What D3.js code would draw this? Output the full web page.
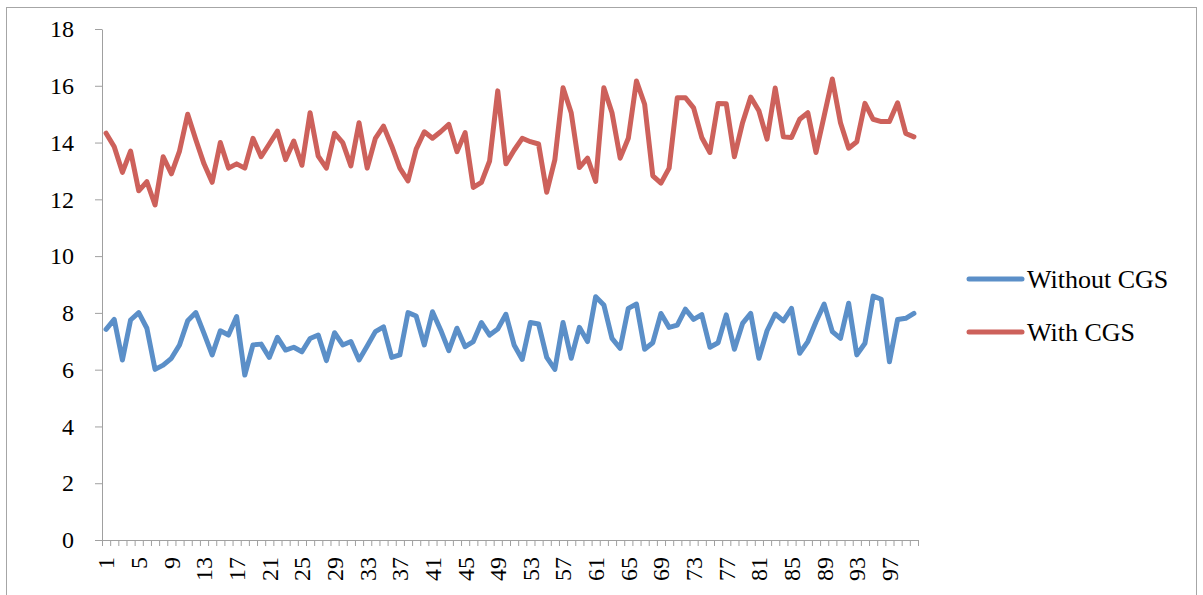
<!DOCTYPE html>
<html>
<head>
<meta charset="utf-8">
<script src="https://cdn.jsdelivr.net/npm/d3@7"></script>
<style>
  html, body { margin: 0; padding: 0; background: #fff; }
  svg { display: block; }
  text { font-family: "Liberation Serif", "Times New Roman", serif; fill: #000; }
</style>
</head>
<body>
<svg id="chart" width="1203" height="595"></svg>
<script>
const categories = d3.range(1, 101);
const seriesNames = ["Without CGS", "With CGS"];
const withoutCGS = [7.42,7.77,6.34,7.75,8.01,7.46,6.01,6.16,6.40,6.87,
  7.72,8.01,7.28,6.52,7.37,7.22,7.87,5.81,6.87,6.90,
  6.43,7.14,6.69,6.79,6.63,7.10,7.22,6.32,7.30,6.87,
  6.99,6.34,6.83,7.34,7.51,6.43,6.52,8.01,7.89,6.87,
  8.04,7.40,6.67,7.46,6.81,6.99,7.66,7.22,7.43,7.95,
  6.87,6.36,7.66,7.61,6.43,6.01,7.66,6.40,7.49,6.99,
  8.57,8.28,7.10,6.75,8.16,8.31,6.72,6.95,7.98,7.49,
  7.57,8.13,7.77,7.94,6.79,6.95,7.93,6.72,7.63,7.98,
  6.40,7.37,7.96,7.72,8.16,6.58,6.99,7.69,8.31,7.34,
  7.10,8.34,6.52,6.93,8.59,8.48,6.28,7.77,7.81,7.98];
const withCGS = [14.33,13.85,12.95,13.7,12.3,12.62,11.8,13.5,12.9,13.7,
  15.0,14.1,13.25,12.6,14.0,13.1,13.25,13.1,14.15,13.5,
  13.95,14.4,13.4,14.05,13.2,15.05,13.52,13.1,14.33,14.0,
  13.18,14.7,13.1,14.15,14.58,13.88,13.1,12.65,13.77,14.38,
  14.15,14.38,14.64,13.68,14.35,12.42,12.6,13.35,15.82,13.25,
  13.73,14.15,14.03,13.95,12.25,13.4,15.93,15.05,13.12,13.45,
  12.63,15.93,15.05,13.45,14.15,16.17,15.35,12.83,12.57,13.1,
  15.58,15.58,15.22,14.18,13.65,15.38,15.37,13.5,14.7,15.6,
  15.12,14.12,15.92,14.2,14.18,14.82,15.05,13.65,14.94,16.24,
  14.7,13.8,14.03,15.38,14.82,14.74,14.74,15.4,14.32,14.2];
const yTicks = [0,2,4,6,8,10,12,14,16,18];
const xLabelTicks = categories.filter((d, i) => i % 4 === 0);

const colors = ["#5B8FC8", "#CD615B"];
const series = [withoutCGS, withCGS];

const svg = d3.select("#chart");

// frame
svg.append("rect")
  .attr("x", 6.5).attr("y", 7.5)
  .attr("width", 1190).attr("height", 600)
  .attr("fill", "none").attr("stroke", "#a6a6a6").attr("stroke-width", 1);

const plotLeft = 102, plotRight = 918, plotTop = 29, plotBottom = 540;

const x = d3.scaleBand().domain(categories).range([plotLeft, plotRight]).padding(0);
const xEdge = d3.scaleLinear().domain([0, categories.length]).range([plotLeft, plotRight]);
const y = d3.scaleLinear().domain([0, 18]).range([plotBottom, plotTop]);

// y axis
const yAxis = svg.append("g")
  .attr("transform", `translate(${plotLeft},0)`)
  .call(d3.axisLeft(y).tickValues(yTicks).tickSize(7).tickPadding(21).tickSizeOuter(0));
yAxis.select(".domain").attr("stroke", "#a0a0a0");
yAxis.selectAll(".tick line").attr("stroke", "#a0a0a0");
yAxis.selectAll(".tick text").style("font-size", "24px").attr("font-family", "Liberation Serif");

// x axis ticks (between categories)
const xTickAxis = svg.append("g")
  .attr("transform", `translate(0,${plotBottom})`)
  .call(d3.axisBottom(xEdge).tickValues(d3.range(0, categories.length + 1)).tickSize(6).tickFormat("").tickSizeOuter(0));
xTickAxis.select(".domain").attr("stroke", "#a0a0a0");
xTickAxis.selectAll(".tick line").attr("stroke", "#a0a0a0");

// x labels
const xAxis = svg.append("g")
  .attr("transform", `translate(0,${plotBottom})`)
  .call(d3.axisBottom(x).tickValues(xLabelTicks).tickSize(0).tickPadding(0));
xAxis.select(".domain").remove();
xAxis.selectAll(".tick text")
  .style("font-size", "24px")
  .attr("font-family", "Liberation Serif")
  .attr("text-anchor", "end")
  .attr("dy", "0.35em")
  .attr("transform", "translate(0,17) rotate(-90)")
  .attr("x", 0).attr("y", 0);

// lines
const line = d3.line()
  .x((d, i) => x(categories[i]) + x.bandwidth() / 2)
  .y(d => y(d));

series.forEach((s, k) => {
  svg.append("path")
    .datum(s)
    .attr("d", line)
    .attr("fill", "none")
    .attr("stroke", colors[k])
    .attr("stroke-width", 5)
    .attr("stroke-linejoin", "round")
    .attr("stroke-linecap", "round");
});

// legend
const legendY = [279, 332];
seriesNames.forEach((name, k) => {
  svg.append("line")
    .attr("x1", 969).attr("x2", 1022)
    .attr("y1", legendY[k]).attr("y2", legendY[k])
    .attr("stroke", colors[k]).attr("stroke-width", 5)
    .attr("stroke-linecap", "round");
  svg.append("text")
    .attr("x", 1027).attr("y", legendY[k])
    .attr("dy", "0.35em")
    .style("font-size", "26px")
    .text(name);
});
</script>
</body>
</html>
